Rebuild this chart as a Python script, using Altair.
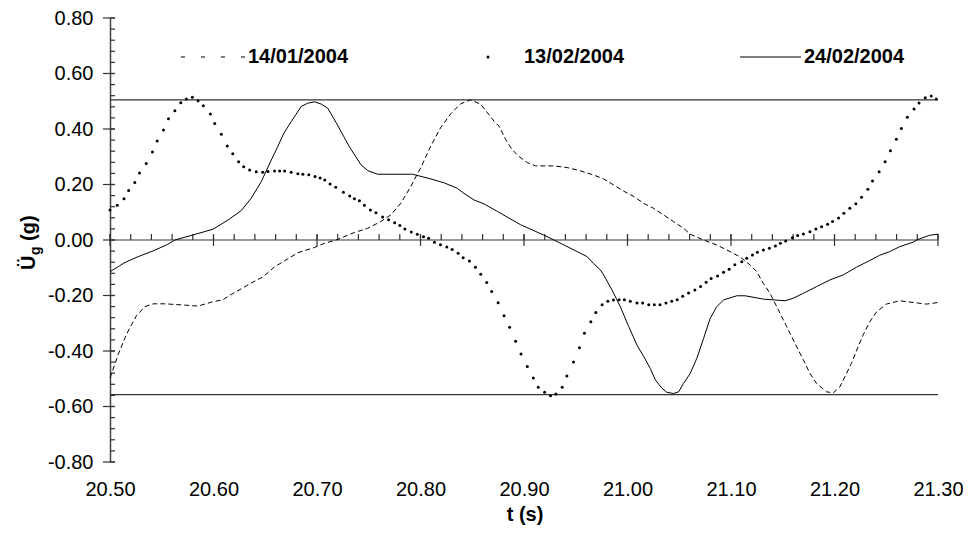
import altair as alt
import pandas as pd

FONT = "Liberation Sans"

# ---- 14/01/2004 (dashed) ----
t_a = [20.500, 20.508, 20.5145, 20.5193, 20.5256, 20.5337, 20.5417, 20.553, 20.5658, 20.5851,
       20.598, 20.6092, 20.6172, 20.6268, 20.6365, 20.6477, 20.659, 20.6686, 20.6815, 20.6976,
       20.7072, 20.720, 20.736, 20.749, 20.7618, 20.7715, 20.7811, 20.7908, 20.8003, 20.810,
       20.8196, 20.8293, 20.8389, 20.8485, 20.8582, 20.8711, 20.8759, 20.8823, 20.8887, 20.8951,
       20.9032, 20.9112, 20.9289, 20.9417, 20.9545, 20.9675, 20.977, 20.9867, 20.9963, 21.006,
       21.0156, 21.0253, 21.035, 21.0446, 21.0542, 21.0606, 21.0735, 21.0863, 21.0992, 21.1088,
       21.1185, 21.1249, 21.1313, 21.1377, 21.1442, 21.1506, 21.157, 21.1635, 21.1699, 21.1763,
       21.1827, 21.1923, 21.1988, 21.2052, 21.2116, 21.2164, 21.2228, 21.2277, 21.234, 21.2406,
       21.2502, 21.263, 21.2759, 21.2887, 21.2952, 21.300]
v_a = [-0.497, -0.412, -0.352, -0.315, -0.273, -0.240, -0.230, -0.230, -0.233, -0.238,
       -0.224, -0.215, -0.196, -0.176, -0.155, -0.133, -0.097, -0.075, -0.046, -0.027,
       -0.012, 0.002, 0.027, 0.042, 0.067, 0.091, 0.133, 0.194, 0.261, 0.339,
       0.406, 0.455, 0.491, 0.505, 0.489, 0.428, 0.410, 0.362, 0.325, 0.301,
       0.279, 0.267, 0.267, 0.261, 0.249, 0.234, 0.220, 0.198, 0.176, 0.157,
       0.132, 0.114, 0.090, 0.066, 0.042, 0.021, 0.000, -0.018, -0.042, -0.061,
       -0.090, -0.114, -0.157, -0.192, -0.240, -0.288, -0.336, -0.385, -0.432, -0.481,
       -0.517, -0.547, -0.551, -0.529, -0.481, -0.444, -0.385, -0.342, -0.295, -0.259,
       -0.231, -0.219, -0.225, -0.231, -0.228, -0.225]

# ---- 13/02/2004 (dotted, one dot per sample) ----
t_b = [20.500, 20.507, 20.5135, 20.518, 20.524, 20.5285, 20.535, 20.541, 20.5456, 20.5517,
       20.5565, 20.5627, 20.5684, 20.5738, 20.5796, 20.5851, 20.5902, 20.597, 20.6012, 20.6076,
       20.6133, 20.6186, 20.6243, 20.6292, 20.6349, 20.6413, 20.6475, 20.6526, 20.659, 20.6639,
       20.6687, 20.675, 20.6815, 20.6863, 20.6921, 20.6981, 20.703, 20.7075, 20.7126, 20.7181,
       20.7255, 20.7316, 20.7361, 20.741, 20.7458, 20.7516, 20.757, 20.7634, 20.7692, 20.775,
       20.7801, 20.7849, 20.7911, 20.7969, 20.8029, 20.8078, 20.8135, 20.8193, 20.8254, 20.8306,
       20.8364, 20.8412, 20.8473, 20.8531, 20.8582, 20.864, 20.8688, 20.875, 20.8807, 20.8861,
       20.8919, 20.8971, 20.9032, 20.909, 20.9138, 20.9199, 20.9256, 20.9308, 20.9369, 20.9414,
       20.9478, 20.9536, 20.9584, 20.9646, 20.9694, 20.9755, 20.981, 20.9864, 20.9919, 20.997,
       21.0027, 21.0092, 21.0147, 21.0205, 21.0259, 21.0314, 21.0372, 21.0427, 21.048, 21.0533,
       21.059, 21.0651, 21.0706, 21.076, 21.0808, 21.087, 21.0928, 21.0982, 21.1037, 21.1104,
       21.1152, 21.1207, 21.1255, 21.1313, 21.1371, 21.1429, 21.1477, 21.1528, 21.1593, 21.1644,
       21.1699, 21.1763, 21.182, 21.1875, 21.1933, 21.1981, 21.2039, 21.209, 21.2148, 21.2206,
       21.2261, 21.2322, 21.2367, 21.2431, 21.2489, 21.254, 21.2598, 21.2646, 21.2704, 21.2769,
       21.2817, 21.2877, 21.2935, 21.2983]
v_b = [0.108, 0.125, 0.149, 0.178, 0.207, 0.241, 0.276, 0.317, 0.357, 0.396,
       0.437, 0.466, 0.495, 0.508, 0.514, 0.502, 0.484, 0.454, 0.420, 0.381,
       0.339, 0.311, 0.282, 0.264, 0.252, 0.246, 0.244, 0.247, 0.249, 0.249,
       0.249, 0.244, 0.239, 0.237, 0.235, 0.229, 0.223, 0.216, 0.202, 0.190,
       0.172, 0.159, 0.149, 0.141, 0.125, 0.108, 0.098, 0.083, 0.073, 0.062,
       0.052, 0.040, 0.029, 0.021, 0.012, 0.006, -0.008, -0.017, -0.025, -0.034,
       -0.048, -0.064, -0.076, -0.098, -0.123, -0.153, -0.186, -0.226, -0.273, -0.314,
       -0.365, -0.411, -0.456, -0.497, -0.531, -0.549, -0.561, -0.555, -0.531, -0.490,
       -0.440, -0.388, -0.336, -0.295, -0.261, -0.233, -0.221, -0.216, -0.215, -0.215,
       -0.221, -0.227, -0.227, -0.233, -0.233, -0.233, -0.227, -0.221, -0.215, -0.203,
       -0.191, -0.180, -0.168, -0.152, -0.139, -0.130, -0.116, -0.105, -0.089, -0.078,
       -0.066, -0.054, -0.044, -0.036, -0.030, -0.022, -0.012, -0.004, 0.008, 0.016,
       0.022, 0.030, 0.040, 0.048, 0.057, 0.067, 0.079, 0.096, 0.114, 0.131,
       0.154, 0.183, 0.213, 0.246, 0.282, 0.322, 0.363, 0.402, 0.442, 0.472,
       0.494, 0.513, 0.519, 0.508]

# ---- 24/02/2004 (solid) ----
t_c = [20.500, 20.508, 20.5145, 20.5272, 20.5417, 20.5546, 20.5627, 20.580, 20.5996, 20.614,
       20.6268, 20.6365, 20.6461, 20.6558, 20.662, 20.668, 20.675, 20.6847, 20.691, 20.6976,
       20.704, 20.7104, 20.7185, 20.7313, 20.7425, 20.749, 20.7586, 20.7923, 20.810, 20.8228,
       20.8357, 20.842, 20.8518, 20.8614, 20.8743, 20.8967, 20.919, 20.929, 20.9386, 20.9514,
       20.961, 20.967, 20.9738, 20.977, 20.985, 20.993, 21.0012, 21.0092, 21.0157, 21.022,
       21.0269, 21.0333, 21.038, 21.0446, 21.0494, 21.0542, 21.0606, 21.067, 21.0735, 21.0798,
       21.0863, 21.0928, 21.1056, 21.1136, 21.1313, 21.1522, 21.160, 21.1699, 21.1827, 21.1955,
       21.2084, 21.2212, 21.234, 21.2436, 21.2533, 21.263, 21.2759, 21.2807, 21.2919, 21.300]
v_c = [-0.114, -0.096, -0.081, -0.060, -0.039, -0.018, 0.000, 0.018, 0.039, 0.072,
       0.106, 0.151, 0.210, 0.288, 0.336, 0.385, 0.426, 0.481, 0.493, 0.498,
       0.490, 0.475, 0.423, 0.336, 0.271, 0.250, 0.237, 0.237, 0.220, 0.206,
       0.186, 0.168, 0.144, 0.130, 0.103, 0.055, 0.018, 0.000, -0.018, -0.042,
       -0.060, -0.084, -0.108, -0.126, -0.180, -0.240, -0.312, -0.379, -0.420, -0.463,
       -0.504, -0.534, -0.549, -0.553, -0.547, -0.516, -0.481, -0.426, -0.355, -0.283,
       -0.240, -0.216, -0.201, -0.201, -0.213, -0.219, -0.210, -0.192, -0.168, -0.144,
       -0.126, -0.098, -0.074, -0.055, -0.042, -0.024, -0.008, 0.002, 0.017, 0.021]

ref_levels = [0.505, 0.0, -0.557]
x_major = [20.5, 20.6, 20.7, 20.8, 20.9, 21.0, 21.1, 21.2, 21.3]
y_major = [-0.8, -0.6, -0.4, -0.2, 0.0, 0.2, 0.4, 0.6, 0.8]
x_minor = [round(20.5 + 0.02 * i, 2) for i in range(41)]
y_minor = [round(-0.8 + 0.04 * i, 2) for i in range(41)]
legend_labels = ["14/01/2004", "13/02/2004", "24/02/2004"]

XD = [20.5, 21.3]
YD = [-0.8, 0.8]
xs = alt.Scale(domain=XD, nice=False, zero=False)
ys = alt.Scale(domain=YD, nice=False, zero=False)

neg_fmt = "datum.value < 0 ? '-' + format(-datum.value, '.2f') : format(datum.value, '.2f')"
AX = alt.Axis(values=x_major, format=".2f", domain=False, ticks=False, grid=False, labelFont=FONT,
              labelFontSize=20, labelColor="black", labelPadding=17, title=None, labelFlush=False)
AY = alt.Axis(values=y_major, labelExpr=neg_fmt, domain=True, domainColor="#444", domainWidth=1.5,
              ticks=False, grid=False, labelFont=FONT, labelFontSize=20, labelColor="black",
              labelPadding=17, title=None)


def X(field="t"):
    return alt.X(f"{field}:Q", scale=xs, axis=AX)


def Y(field="v"):
    return alt.Y(f"{field}:Q", scale=ys, axis=AY)


df_a = pd.DataFrame({"t": t_a, "v": v_a})
df_b = pd.DataFrame({"t": t_b, "v": v_b})
df_c = pd.DataFrame({"t": t_c, "v": v_c})

refs = alt.Chart(pd.DataFrame({"v": ref_levels})).mark_rule(color="#333", strokeWidth=1.2).encode(y=Y())

xmaj = alt.Chart(pd.DataFrame({"t": x_major})).mark_rule(color="#333", strokeWidth=1.2, yOffset=-6, y2Offset=6).encode(
    x=X(), y=alt.datum(0, scale=ys, axis=AY), y2=alt.datum(0)
)
xmin = alt.Chart(pd.DataFrame({"t": x_minor})).mark_rule(color="#333", strokeWidth=1.2, yOffset=-6, y2Offset=0).encode(
    x=X(), y=alt.datum(0, scale=ys, axis=AY), y2=alt.datum(0)
)
ymaj = alt.Chart(pd.DataFrame({"v": y_major})).mark_rule(color="#333", strokeWidth=1.2).encode(
    y=Y(), x=alt.value(-7), x2=alt.value(5)
)
ymin = alt.Chart(pd.DataFrame({"v": y_minor})).mark_rule(color="#333", strokeWidth=1.2).encode(
    y=Y(), x=alt.value(0), x2=alt.value(5)
)

line_a = alt.Chart(df_a).mark_line(color="black", strokeWidth=1, strokeDash=[5, 3]).encode(
    x=X(), y=Y(), order="t:Q"
)
line_c = alt.Chart(df_c).mark_line(color="black", strokeWidth=1).encode(x=X(), y=Y(), order="t:Q")
dots_b = alt.Chart(df_b).mark_circle(color="black", size=9, opacity=1).encode(x=X(), y=Y())

# legend (manual)
LY = 39
leg_dash = alt.Chart().mark_rule(color="black", strokeWidth=1, strokeDash=[4, 16]).encode(
    x=alt.value(71), x2=alt.value(135), y=alt.value(LY)
)
leg_dot = alt.Chart().mark_circle(color="black", size=9, opacity=1).encode(x=alt.value(378), y=alt.value(LY))
leg_solid = alt.Chart().mark_rule(color="black", strokeWidth=1).encode(
    x=alt.value(630), x2=alt.value(691), y=alt.value(LY)
)
leg_txt = []
for lab, lx in zip(legend_labels, [138, 414, 694]):
    leg_txt.append(
        alt.Chart().mark_text(text=lab, font=FONT, fontSize=20, fontWeight="bold", align="left",
                              baseline="middle", color="black").encode(x=alt.value(lx), y=alt.value(LY))
    )

# axis titles (manual)
xtitle = alt.Chart().mark_text(text="t (s)", font=FONT, fontSize=20, fontWeight="bold", align="center",
                               baseline="middle", color="black").encode(x=alt.value(415), y=alt.value(497))
yt1 = alt.Chart().mark_text(text="Ü", font=FONT, fontSize=20, fontWeight="bold", align="left",
                            baseline="alphabetic", angle=270, color="black").encode(x=alt.value(-75), y=alt.value(252))
yt2 = alt.Chart().mark_text(text="g", font=FONT, fontSize=14, fontWeight="bold", align="left",
                            baseline="alphabetic", angle=270, color="black").encode(x=alt.value(-70), y=alt.value(237))
yt3 = alt.Chart().mark_text(text="(g)", font=FONT, fontSize=20, fontWeight="bold", align="left",
                            baseline="alphabetic", angle=270, color="black").encode(x=alt.value(-75), y=alt.value(223))

chart = alt.layer(
    refs, ymin, ymaj, xmin, xmaj, line_a, line_c, dots_b,
    leg_dash, leg_dot, leg_solid, *leg_txt, xtitle, yt1, yt2, yt3
).properties(
    width=828, height=444,
    padding={"left": 102, "top": 10, "right": 25, "bottom": 66},
    autosize=alt.AutoSizeParams(type="none"),
).configure_view(stroke="transparent")

chart.save("out.html", embed_options={"renderer": "svg", "actions": False})
